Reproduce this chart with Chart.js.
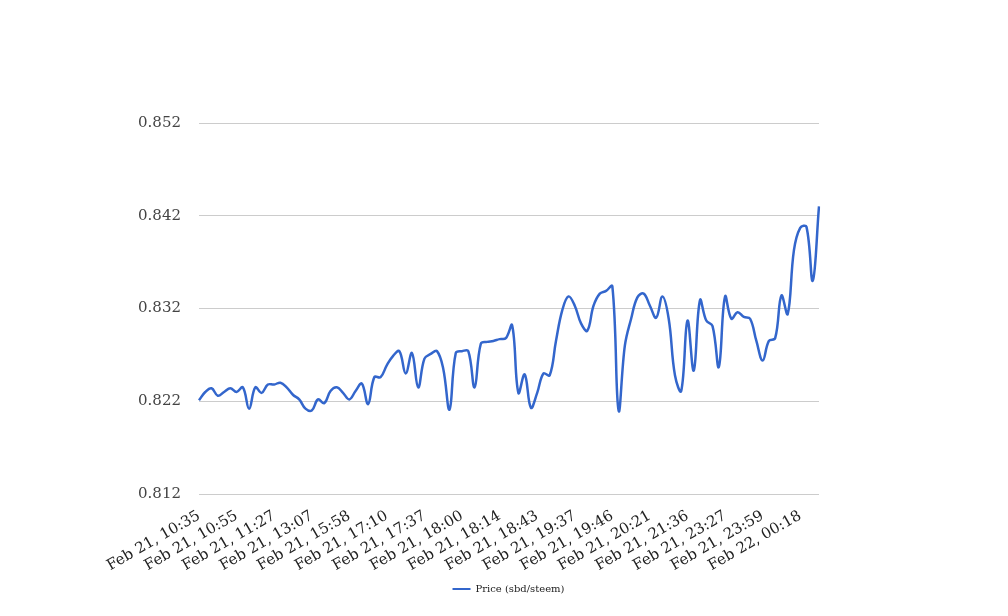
<!DOCTYPE html>
<html>
<head>
<meta charset="utf-8">
<title>Price (sbd/steem)</title>
<script src="https://cdn.jsdelivr.net/npm/chart.js@4/dist/chart.umd.min.js"></script>
<style>
  html, body { margin: 0; padding: 0; background: #fff; overflow: hidden; }
  #wrap { width: 1008px; height: 616px; position: relative; }
</style>
</head>
<body>
<div id="wrap"><canvas id="priceChart"></canvas></div>
<script>
// tick labels shown on the x axis (one every 6 samples)
const tickLabels = [
  "Feb 21, 10:35", "Feb 21, 10:55", "Feb 21, 11:27", "Feb 21, 13:07",
  "Feb 21, 15:58", "Feb 21, 17:10", "Feb 21, 17:37", "Feb 21, 18:00",
  "Feb 21, 18:14", "Feb 21, 18:43", "Feb 21, 19:37", "Feb 21, 19:46",
  "Feb 21, 20:21", "Feb 21, 21:36", "Feb 21, 23:27", "Feb 21, 23:59",
  "Feb 22, 00:18"
];
const labelEvery = 6;

const prices = [
  0.8221, 0.8230, 0.8234, 0.8226, 0.8230, 0.8234, 0.8230, 0.8235, 0.8212, 0.8235,
  0.8229, 0.8238, 0.8238, 0.8240, 0.8235, 0.8227, 0.8222, 0.8212, 0.8210, 0.8222,
  0.8218, 0.8231, 0.8235, 0.8229, 0.8222, 0.8231, 0.8239, 0.8217, 0.8246, 0.8246,
  0.8259, 0.8269, 0.8274, 0.8250, 0.8272, 0.8235, 0.8266, 0.8271, 0.8274, 0.8255,
  0.8211, 0.8272, 0.8274, 0.8274, 0.8235, 0.8282, 0.8284, 0.8285, 0.8287, 0.8288,
  0.8302, 0.8229, 0.8249, 0.8213, 0.8229, 0.8250, 0.8248, 0.8285, 0.8318, 0.8333,
  0.8323, 0.8304, 0.8296, 0.8323, 0.8336, 0.8339, 0.8344, 0.8210, 0.8280, 0.8309,
  0.8332, 0.8336, 0.8323, 0.8310, 0.8333, 0.8309, 0.8248, 0.8231, 0.8307, 0.8253,
  0.8329, 0.8307, 0.8301, 0.8257, 0.8333, 0.8309, 0.8316, 0.8311, 0.8309, 0.8285,
  0.8264, 0.8285, 0.8288, 0.8334, 0.8314, 0.8383, 0.8407, 0.8408, 0.8350, 0.8430
];

const yMin = 0.812;
const yMax = 0.852;
const yStep = 0.01;

const categories = prices.map((_, i) => (i % labelEvery === 0 ? (tickLabels[i / labelEvery] || "") : ""));

const serif = "'DejaVu Serif', serif";

function renderPriceChart() {
  const ctx = document.getElementById("priceChart").getContext("2d");
  new Chart(ctx, {
    type: "line",
    data: {
      labels: categories,
      datasets: [{
        label: "Price (sbd/steem)",
        data: prices,
        borderColor: "#3366cc",
        backgroundColor: "#3366cc",
        borderWidth: 2.5,
        pointRadius: 0,
        tension: 0.4,
        fill: false
      }]
    },
    options: {
      responsive: true,
      maintainAspectRatio: false,
      animation: false,
      layout: { padding: { left: 9, right: 0, top: 123, bottom: 12 } },
      plugins: {
        legend: {
          position: "bottom",
          labels: {
            font: { family: serif, size: 10 },
            color: "#222",
            boxWidth: 18,
            boxHeight: 2,
            padding: 10,
            generateLabels: chart => Chart.defaults.plugins.legend.labels.generateLabels(chart)
              .map(l => ({ ...l, lineWidth: 0 }))
          }
        },
        tooltip: { enabled: true }
      },
      scales: {
        x: {
          grid: { display: false, drawTicks: false },
          border: { display: false },
          ticks: {
            autoSkip: false,
            minRotation: 30,
            maxRotation: 30,
            padding: 13,
            color: "#222",
            font: { family: serif, size: 15 },
            callback: (v, i) => categories[i]
          },
          afterFit: scale => { scale.height = 80; }
        },
        y: {
          min: yMin,
          max: yMax,
          grid: { color: "#cccccc", drawTicks: false },
          border: { display: false },
          ticks: {
            stepSize: yStep,
            padding: 18,
            color: "#444",
            font: { family: serif, size: 15 },
            callback: v => v.toFixed(3)
          },
          afterFit: scale => { scale.width = 190; }
        },
        // empty right-hand axis that only reserves the blank margin
        yRight: {
          position: "right",
          min: yMin,
          max: yMax,
          grid: { display: false, drawTicks: false },
          border: { display: false },
          ticks: { display: false },
          afterFit: scale => { scale.width = 189; }
        }
      }
    }
  });
}

document.addEventListener("DOMContentLoaded", renderPriceChart);
</script>
</body>
</html>
